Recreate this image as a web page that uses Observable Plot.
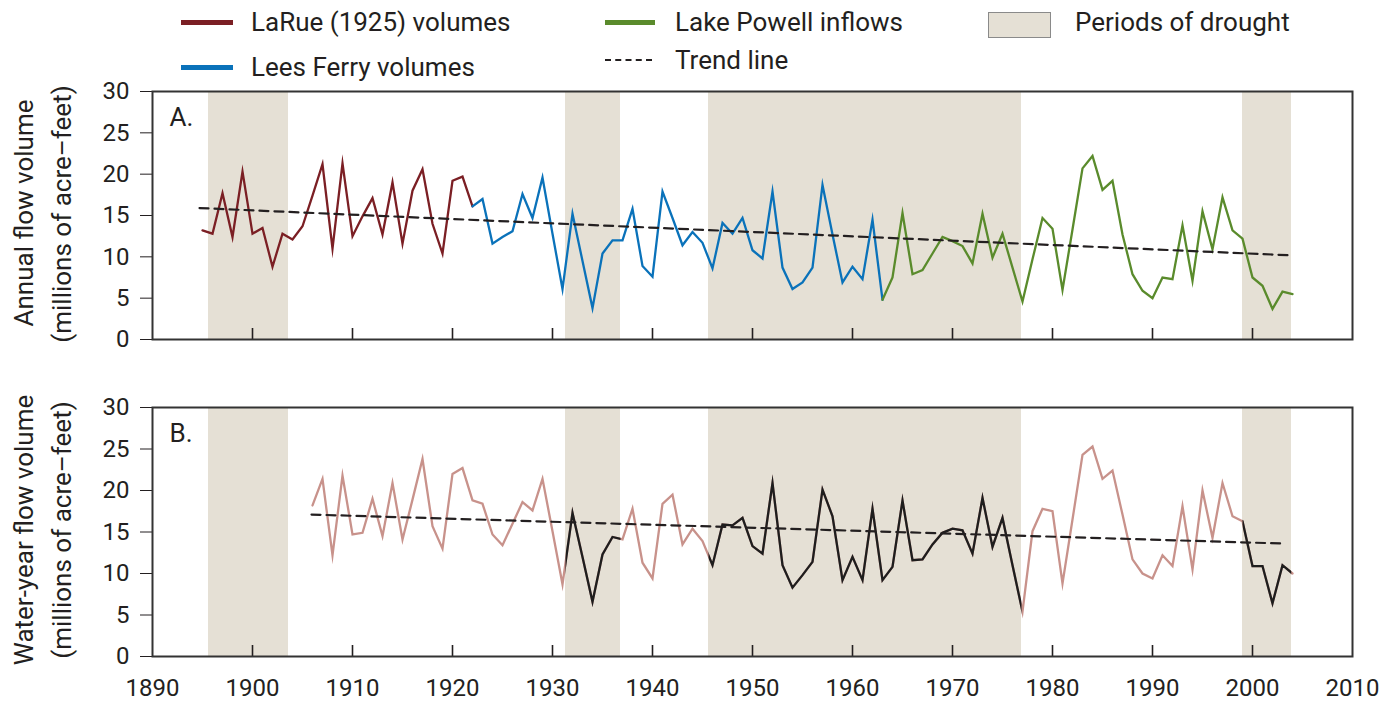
<!DOCTYPE html>
<html>
<head>
<meta charset="utf-8">
<script src="https://cdn.jsdelivr.net/npm/d3@7"></script>
<script src="https://cdn.jsdelivr.net/npm/@observablehq/plot@0.6"></script>
<style>
  body { margin: 0; background: #fff; }
  #root { position: relative; width: 1399px; height: 705px; overflow: hidden;
          font-family: Roboto, "Liberation Sans", sans-serif; color: #231f20; }
  .lg { position: absolute; font-size: 26px; line-height: 1; white-space: nowrap; }
  .sw { position: absolute; height: 5px; }
  .yt { position: absolute; font-size: 26px; line-height: 1; white-space: nowrap; transform: translate(-50%, -50%) rotate(-90deg); }
  .panel { position: absolute; left: 0; }
</style>
</head>
<body>
<div id="root">
  <div class="sw" style="left:181px;top:20px;width:52px;background:#7b1f24"></div>
  <div class="lg" style="left:251px;top:9px">LaRue (1925) volumes</div>
  <div class="sw" style="left:181px;top:65px;width:52px;background:#0a72ba"></div>
  <div class="lg" style="left:251px;top:54px">Lees Ferry volumes</div>
  <div class="sw" style="left:605px;top:20px;width:50px;background:#5a8b2c"></div>
  <div class="lg" style="left:675px;top:9px">Lake Powell inflows</div>
  <div style="position:absolute;left:605px;top:59px;width:47px;border-top:2px dashed #231f20"></div>
  <div class="lg" style="left:675px;top:47px">Trend line</div>
  <div style="position:absolute;left:988px;top:12px;width:61px;height:24px;background:#e5e0d5;border:1px solid #8a8a8a"></div>
  <div class="lg" style="left:1075px;top:9px">Periods of drought</div>

  <div class="yt" style="left:24px;top:213px">Annual flow volume</div>
  <div class="yt" style="left:62px;top:214px">(millions of acre–feet)</div>
  <div class="yt" style="left:24px;top:530px">Water-year flow volume</div>
  <div class="yt" style="left:62px;top:530px">(millions of acre–feet)</div>

  <div id="a" class="panel" style="top:80px"></div>
  <div id="b" class="panel" style="top:396px"></div>
</div>
<script>
// ---------- data ----------
const xTicks = [1890, 1900, 1910, 1920, 1930, 1940, 1950, 1960, 1970, 1980, 1990, 2000, 2010];
const innerTicks = [1900, 1910, 1920, 1930, 1940, 1950, 1960, 1970, 1980, 1990, 2000];
const yTicks = [0, 5, 10, 15, 20, 25, 30];

const droughtStart = [1895.6, 1931.3, 1945.6, 1999.0];
const droughtEnd   = [1903.6, 1936.8, 1976.9, 2003.9];

const larueFirstYear = 1895;
const larueValues = [13.2, 12.8, 17.7, 12.4, 20.3, 12.8, 13.5, 8.8, 12.8, 12.1,
  13.7, 17.4, 21.2, 11.0, 21.3, 12.5, 14.9, 17.1, 12.7, 19.0,
  11.6, 18.0, 20.6, 14.0, 10.4, 19.2, 19.7, 16.1];

const leesFirstYear = 1922;
const leesValues = [16.1, 17.0, 11.6, 12.4, 13.1, 17.6, 14.7, 19.6, 12.8, 6.1,
  15.2, 9.5, 3.8, 10.4, 12.0, 12.0, 15.8, 8.9, 7.6, 17.9,
  14.7, 11.4, 13.0, 11.7, 8.6, 14.1, 12.8, 14.7, 10.8, 9.8,
  17.9, 8.7, 6.1, 6.9, 8.7, 18.7, 12.7, 6.9, 8.8, 7.3,
  14.5, 4.8];

const powellFirstYear = 1963;
const powellValues = [4.8, 7.5, 15.3, 7.9, 8.4, 10.4, 12.4, 11.9, 11.3, 9.2,
  15.2, 9.9, 12.8, 8.7, 4.6, 9.7, 14.7, 13.4, 6.0, 13.3,
  20.7, 22.2, 18.1, 19.2, 12.7, 7.9, 5.9, 5.0, 7.5, 7.3,
  13.8, 7.1, 15.5, 10.9, 17.2, 13.2, 12.2, 7.5, 6.5, 3.7,
  5.8, 5.5];

const waterFirstYear = 1906;
const waterValues = [18.2, 21.4, 12.2, 21.8, 14.7, 14.9, 19.0, 14.5, 20.9, 14.1,
  18.9, 23.8, 15.7, 13.0, 22.0, 22.7, 18.8, 18.4, 14.7, 13.4,
  16.0, 18.6, 17.6, 21.4, 15.1, 8.7, 17.3, 12.0, 6.6, 12.3,
  14.4, 14.1, 17.8, 11.3, 9.4, 18.4, 19.5, 13.5, 15.4, 13.9,
  11.0, 15.9, 15.8, 16.7, 13.3, 12.4, 20.9, 11.0, 8.3, 9.8,
  11.4, 20.1, 16.9, 9.2, 12.0, 9.2, 17.8, 9.2, 10.8, 18.8,
  11.6, 11.7, 13.5, 14.9, 15.4, 15.2, 12.4, 19.1, 13.2, 16.7,
  11.0, 5.4, 15.1, 17.8, 17.5, 8.8, 16.5, 24.3, 25.3, 21.4,
  22.4, 17.1, 11.7, 10.0, 9.4, 12.2, 10.9, 18.1, 10.5, 20.0,
  14.3, 20.9, 16.9, 16.3, 10.9, 10.9, 6.4, 11.0, 10.0];

const trendAYears = [1894.7, 2003.5];
const trendAValues = [15.9, 10.2];
const trendBYears = [1905.9, 2003.3];
const trendBValues = [17.1, 13.6];

// ---------- styles ----------
const C_LARUE = "#7b1f24", C_LEES = "#0a72ba", C_POWELL = "#5a8b2c";
const C_PINK = "#c8928b", C_DROUGHT_LINE = "#1e1e1e", C_TREND = "#231f20";
const C_FILL = "#e5e0d5";
const FONT = 'Roboto, "Liberation Sans", sans-serif';

const toRows = (first, vals) => vals.map((v, i) => ({year: first + i, value: v}));
const larue = toRows(larueFirstYear, larueValues);
const lees = toRows(leesFirstYear, leesValues);
const powell = toRows(powellFirstYear, powellValues);
const water = toRows(waterFirstYear, waterValues);
const trendA = trendAYears.map((y, i) => ({year: y, value: trendAValues[i]}));
const trendB = trendBYears.map((y, i) => ({year: y, value: trendBValues[i]}));
const drought = droughtStart.map((s, i) => ({start: s, end: droughtEnd[i]}));

const W = 1399, ML = 152, MR = 47;
const common = (h, mb) => ({
  width: W, height: h, marginLeft: ML, marginRight: MR, marginTop: 11, marginBottom: mb,
  x: {domain: [1890, 2010], label: null},
  y: {domain: [0, 30], label: null},
  style: {fontFamily: FONT, fontSize: "24px", color: "#231f20", background: "transparent", overflow: "visible"}
});
const lineOpts = {x: "year", y: "value", strokeWidth: 2.3, strokeLinejoin: "miter", strokeMiterlimit: 10};

const plotA = Plot.plot({
  ...common(270, 11),
  marks: [
    Plot.barX(drought, {x1: "start", x2: "end", fill: C_FILL}),
    Plot.line(larue, {...lineOpts, stroke: C_LARUE}),
    Plot.line(lees, {...lineOpts, stroke: C_LEES}),
    Plot.line(powell, {...lineOpts, stroke: C_POWELL}),
    Plot.line(trendA, {x: "year", y: "value", stroke: C_TREND, strokeWidth: 2.2, strokeDasharray: "9,6"}),
    Plot.axisY({ticks: yTicks, tickSize: 12, tickPadding: 11, fontSize: 24}),
    Plot.axisX({ticks: innerTicks, tickSize: 11, dy: -11, tickFormat: () => "", strokeWidth: 1.6}),
    Plot.text(["A."], {frameAnchor: "top-left", dx: 17, dy: 16, fontSize: 26, fill: "#231f20"}),
    Plot.frame({stroke: "#333", strokeWidth: 2})
  ]
});

const plotB = Plot.plot({
  ...common(309, 49),
  marks: [
    Plot.barX(drought, {x1: "start", x2: "end", fill: C_FILL}),
    Plot.line(water, {...lineOpts, stroke: C_PINK}),
    Plot.line(water, {...lineOpts, stroke: C_DROUGHT_LINE}),
    Plot.line(trendB, {x: "year", y: "value", stroke: C_TREND, strokeWidth: 2.2, strokeDasharray: "9,6"}),
    Plot.axisY({ticks: yTicks, tickSize: 12, tickPadding: 11, fontSize: 24}),
    Plot.axisX({ticks: innerTicks, tickSize: 11, dy: -11, tickFormat: () => "", strokeWidth: 1.6}),
    Plot.axisX({ticks: xTicks, tickSize: 0, tickPadding: 22, tickFormat: "d", fontSize: 24}),
    Plot.text(["B."], {frameAnchor: "top-left", dx: 17, dy: 16, fontSize: 26, fill: "#231f20"}),
    Plot.frame({stroke: "#333", strokeWidth: 2})
  ]
});

document.getElementById("a").appendChild(plotA);
document.getElementById("b").appendChild(plotB);

// clip the black water-year line to the drought periods (positions from Plot's own x scale)
(function () {
  const svg = plotB.tagName.toLowerCase() === "svg" ? plotB : plotB.querySelector("svg");
  const sx = plotB.scale("x");
  const fx = sx.apply ? (v) => sx.apply(v) : d3.scaleLinear(sx.domain, sx.range);
  const ns = "http://www.w3.org/2000/svg";
  const defs = document.createElementNS(ns, "defs");
  const cp = document.createElementNS(ns, "clipPath");
  cp.setAttribute("id", "drought-clip");
  drought.forEach(d => {
    const r = document.createElementNS(ns, "rect");
    r.setAttribute("x", fx(d.start));
    r.setAttribute("width", fx(d.end) - fx(d.start));
    r.setAttribute("y", 0);
    r.setAttribute("height", 309);
    cp.appendChild(r);
  });
  defs.appendChild(cp);
  svg.insertBefore(defs, svg.firstChild);
  const g = svg.querySelector(`g[stroke="${C_DROUGHT_LINE}"]`);
  if (g) g.setAttribute("clip-path", "url(#drought-clip)");
})();
</script>
</body>
</html>
